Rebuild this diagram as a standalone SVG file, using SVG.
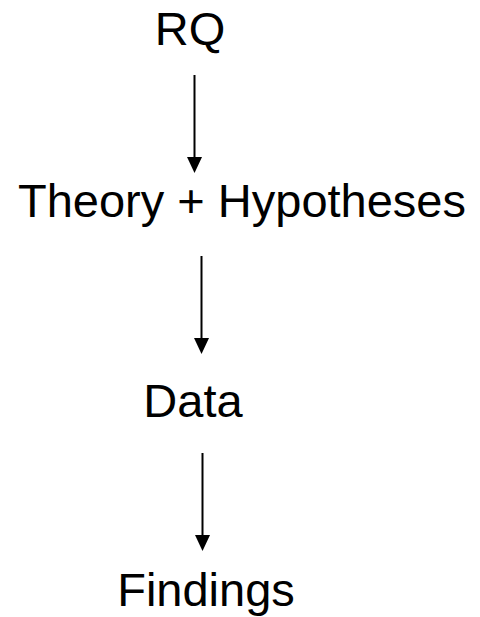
<svg xmlns="http://www.w3.org/2000/svg" width="480" height="617" viewBox="0 0 480 617">
  <style>
    .lbl { font-family: "Liberation Sans", Arial, sans-serif; font-size: 47px; fill: #000; text-anchor: middle; }
    .conn { stroke: #000; stroke-width: 2; fill: none; }
    .head { fill: #000; }
  </style>
  <rect width="480" height="617" fill="#fff"/>
  <g id="connectors">
    <line class="conn" x1="194.5" y1="75" x2="194.5" y2="160"/>
    <polygon class="head" points="187,157 202,157 194.5,173"/>
    <line class="conn" x1="201.5" y1="256" x2="201.5" y2="341"/>
    <polygon class="head" points="194,338 209,338 201.5,354"/>
    <line class="conn" x1="202.5" y1="453" x2="202.5" y2="538"/>
    <polygon class="head" points="195,535 210,535 202.5,551"/>
  </g>
  <g id="node-rq"><text class="lbl" x="190" y="45">RQ</text></g>
  <g id="node-theory"><text class="lbl" x="242" y="217">Theory + Hypotheses</text></g>
  <g id="node-data"><text class="lbl" x="193" y="417">Data</text></g>
  <g id="node-findings"><text class="lbl" x="206" y="606">Findings</text></g>
</svg>
